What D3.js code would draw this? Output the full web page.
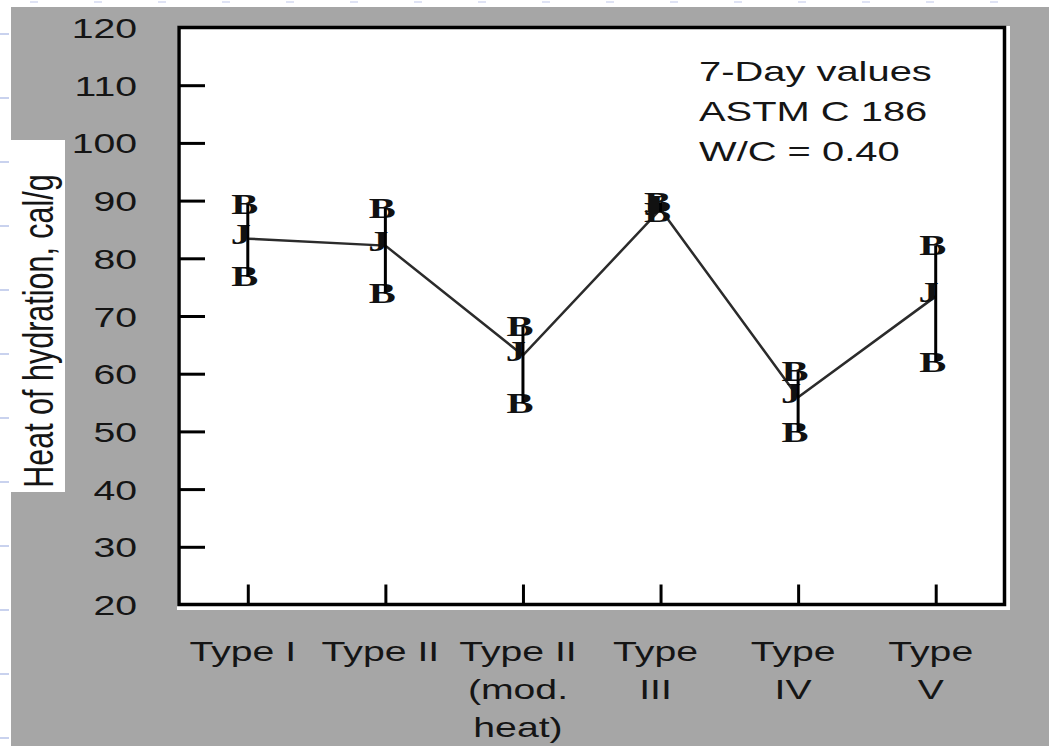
<!DOCTYPE html>
<html>
<head>
<meta charset="utf-8">
<script src="https://cdn.jsdelivr.net/npm/d3@7"></script>
<style>
  html, body { margin: 0; padding: 0; background: #fff; }
  svg { display: block; }
  .tick-label { font-family: "Liberation Sans", Arial, sans-serif; fill: #151515; }
  .sym { font-family: "Liberation Serif", "Times New Roman", serif; font-weight: bold; fill: #111; }
</style>
</head>
<body>
<div id="chart"></div>
<script>
// heat of hydration, 7-day values (cal/g)
const categories = ["Type I", "Type II", "Type II\n(mod.\nheat)", "Type\nIII", "Type\nIV", "Type\nV"];
const meanVals  = [83.4, 82.2, 63.2, 88.5, 55.9, 73.4];
const upperVals = [89.4, 88.7, 68.2, 89.6, 60.4, 82.2];
const lowerVals = [76.8, 73.9, 54.9, 88.0, 49.9, 62.0];
const yTicks = [20, 30, 40, 50, 60, 70, 80, 90, 100, 110, 120];
const notes = ["7-Day values", "ASTM C 186", "W/C = 0.40"];
const yTitle = "Heat of hydration, cal/g";

const W = 1049, H = 746;
const SX = 1.4;   // the source picture is stretched sideways; text follows it

const svg = d3.select("#chart").append("svg")
  .attr("width", W).attr("height", H);

// slide backdrop: white margin with faint dashes, gray panel
svg.append("rect").attr("x", 11).attr("y", 7).attr("width", W - 11).attr("height", H - 7)
  .attr("fill", "#a6a6a6");
svg.append("g").selectAll("rect").data(d3.range(33, H, 64)).join("rect")
  .attr("x", 0).attr("y", d => d).attr("width", 9).attr("height", 2).attr("fill", "#c9d2ee");
svg.append("g").selectAll("rect").data(d3.range(30, W, 64)).join("rect")
  .attr("x", d => d).attr("y", 1).attr("width", 8).attr("height", 2).attr("fill", "#dfe3f4");

const m = { left: 179, right: 1004.5, top: 27.5, bottom: 604.5 };

svg.append("rect").attr("x", 177).attr("y", 26)
  .attr("width", 1010 - 177).attr("height", 610 - 26).attr("fill", "#fff");

const x = d3.scalePoint(categories, [m.left, m.right]).padding(0.5);
const y = d3.scaleLinear([20, 120], [m.bottom, m.top]);

// y axis: inward ticks, labels far out on the gray
const ya = svg.append("g").attr("transform", `translate(${m.left},0)`)
  .call(d3.axisLeft(y).tickValues(yTicks).tickSize(-26).tickPadding(0));
ya.select(".domain").remove();
ya.selectAll(".tick line")
  .attr("stroke", "#000").attr("stroke-width", 3)
  .attr("display", d => (d === 20 || d === 120) ? "none" : null);
ya.selectAll(".tick text")
  .attr("class", "tick-label")
  .attr("font-size", 28)
  .attr("x", -42 / SX).attr("dy", "0.36em")
  .attr("fill", null)
  .attr("transform", `scale(${SX},1)`);

// x axis: inward ticks only, labels drawn below
const xa = svg.append("g").attr("transform", `translate(0,${m.bottom})`)
  .call(d3.axisBottom(x).tickSize(-20).tickFormat(""));
xa.select(".domain").remove();
xa.selectAll(".tick line").attr("stroke", "#000").attr("stroke-width", 3);

svg.append("g").selectAll("text").data(categories).join("text")
  .attr("class", "tick-label")
  .attr("font-size", 28)
  .attr("text-anchor", "middle")
  .attr("transform", d => `translate(${x(d) - 5},661) scale(${SX},1)`)
  .selectAll("tspan").data(d => d.split("\n")).join("tspan")
  .attr("x", 0).attr("y", (_, i) => i * 38)
  .text(t => t);

// frame
svg.append("rect")
  .attr("x", m.left).attr("y", m.top)
  .attr("width", m.right - m.left).attr("height", m.bottom - m.top)
  .attr("fill", "none").attr("stroke", "#000").attr("stroke-width", 3.5);

// y title in its white box
svg.append("rect").attr("x", 11).attr("y", 140).attr("width", 54).attr("height", 352)
  .attr("fill", "#fff");
svg.append("text")
  .attr("class", "tick-label")
  .attr("font-size", 30.5)
  .attr("text-anchor", "middle")
  .attr("transform", `translate(53,331) scale(${SX},1) rotate(-90)`)
  .text(yTitle);

// note block
svg.append("g").selectAll("text").data(notes).join("text")
  .attr("class", "tick-label")
  .attr("font-size", 28.5)
  .attr("transform", (_, i) => `translate(699,${81 + i * 40}) scale(${SX},1)`)
  .text(d => d);

// mean line
svg.append("path")
  .attr("fill", "none").attr("stroke", "#2b2b2b").attr("stroke-width", 2.5)
  .attr("d", d3.line().x((_, i) => x(categories[i])).y(v => y(v))(meanVals));

// range symbols (B) and mean symbols (J)
const sym = svg.append("g");
const pts = categories.flatMap((c, i) => [
  { c, v: upperVals[i], s: "B" },
  { c, v: lowerVals[i], s: "B" },
  { c, v: meanVals[i], s: "J" }
]);
sym.selectAll("text").data(pts).join("text")
  .attr("class", "sym")
  .attr("font-size", 29)
  .attr("text-anchor", "middle")
  .attr("dy", d => d.s === "J" ? "0.2em" : "0.33em")
  .attr("transform", d => `translate(${x(d.c) - (d.s === "J" ? 7 : 3)},${y(d.v)}) scale(${SX},1)`)
  .text(d => d.s);

// error bars
svg.append("g").selectAll("line").data(categories).join("line")
  .attr("x1", d => x(d)).attr("x2", d => x(d))
  .attr("y1", (_, i) => y(upperVals[i])).attr("y2", (_, i) => y(lowerVals[i]))
  .attr("stroke", "#000").attr("stroke-width", 3);
</script>
</body>
</html>
